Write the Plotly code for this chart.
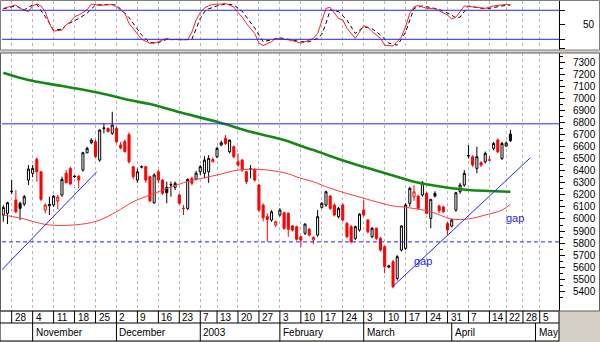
import pandas as pd
import plotly.graph_objects as go

# ---------------- trading calendar ----------------
FIRST_DAY = "2002-10-24"
LAST_DAY = "2003-05-09"
HOLIDAYS = ["2002-12-24", "2002-12-25", "2002-12-26", "2002-12-31", "2003-01-01",
            "2003-01-06", "2003-04-18", "2003-04-21", "2003-05-01"]
trading_days = [d.strftime("%Y-%m-%d") for d in pd.bdate_range(FIRST_DAY, LAST_DAY)
                if d.strftime("%Y-%m-%d") not in HOLIDAYS]
day_index = {d: i for i, d in enumerate(trading_days)}

week_starts = ["2002-10-28", "2002-11-04", "2002-11-11", "2002-11-18", "2002-11-25",
               "2002-12-02", "2002-12-09", "2002-12-16", "2002-12-23", "2003-01-07",
               "2003-01-13", "2003-01-20", "2003-01-27", "2003-02-03", "2003-02-10",
               "2003-02-17", "2003-02-24", "2003-03-03", "2003-03-10", "2003-03-17",
               "2003-03-24", "2003-03-31", "2003-04-07", "2003-04-14", "2003-04-22",
               "2003-04-28", "2003-05-05"]
month_starts = ["2002-11-04", "2002-12-02", "2003-01-07", "2003-02-03", "2003-03-03",
                "2003-04-01", "2003-05-02"]
month_names = ["November", "December", "2003", "February", "March", "April", "May"]

# ---------------- daily prices ----------------
opens = [6033, 6047, 6226, 6157, 6130, 6124, 6323, 6379, 6495, 6392,
         6074, 6110, 6116, 6150, 6199, 6379, 6420, 6356, 6356, 6406,
         6550, 6633, 6641, 6489, 6752, 6752, 6711, 6752, 6614, 6642,
         6700, 6434, 6323, 6430, 6434, 6351, 6135, 6392, 6323, 6262,
         6282, 6262, 6199, 6090, 6088, 6337, 6330, 6392, 6379, 6392,
         6475, 6517, 6614, 6670, 6558, 6600, 6475, 6489, 6392, 6412,
         6412, 6282, 6115, 6020, 5991, 5950, 6033, 6052, 6047, 5942,
         5936, 5853, 5881, 5914, 5825, 5867, 6096, 6116, 6190, 6116,
         6019, 6116, 5963, 5936, 5839, 5908, 6074, 5991, 5853, 5922,
         5839, 5770, 5600, 5645, 5507, 5742, 5756, 6130, 6185, 6190,
         6199, 6213, 6005, 6213, 6107, 6100, 5963, 5941, 6074, 6226,
         6282, 6523, 6517, 6420, 6467, 6475, 6490, 6586, 6655, 6503,
         6605, 6705]
highs = [6115, 6143, 6323, 6240, 6144, 6199, 6448, 6448, 6511, 6400,
         6130, 6185, 6199, 6199, 6351, 6406, 6434, 6362, 6362, 6558,
         6600, 6670, 6660, 6745, 6794, 6760, 6890, 6770, 6640, 6660,
         6720, 6440, 6420, 6445, 6440, 6360, 6380, 6406, 6330, 6310,
         6310, 6310, 6210, 6115, 6337, 6350, 6400, 6448, 6522, 6530,
         6510, 6600, 6650, 6697, 6660, 6610, 6545, 6500, 6400, 6448,
         6420, 6290, 6130, 6047, 6074, 5985, 6090, 6060, 6055, 5950,
         5945, 5860, 5963, 5925, 5855, 6074, 6140, 6235, 6199, 6130,
         6100, 6130, 5975, 5950, 5945, 6047, 6157, 6000, 5936, 5930,
         5850, 5780, 5620, 5660, 5700, 5950, 6130, 6268, 6281, 6200,
         6315, 6225, 6163, 6230, 6120, 6110, 5977, 6000, 6226, 6300,
         6406, 6614, 6530, 6600, 6480, 6560, 6520, 6640, 6670, 6640,
         6645, 6740]
lows = [5977, 5958, 6207, 6047, 5991, 6107, 6282, 6346, 6309, 6149,
        6047, 6033, 6102, 6080, 6185, 6296, 6285, 6340, 6254, 6393,
        6545, 6620, 6505, 6475, 6710, 6720, 6697, 6630, 6580, 6550,
        6460, 6330, 6300, 6420, 6300, 6140, 6125, 6296, 6200, 6130,
        6185, 6240, 6120, 6033, 6074, 6280, 6320, 6365, 6337, 6300,
        6470, 6505, 6605, 6614, 6545, 6503, 6434, 6390, 6290, 6337,
        6310, 6060, 5980, 5811, 5977, 5935, 6020, 5910, 5853, 5895,
        5820, 5770, 5867, 5855, 5790, 5853, 6085, 6102, 6074, 6020,
        6005, 5980, 5840, 5797, 5825, 5895, 6020, 5880, 5840, 5825,
        5730, 5549, 5590, 5424, 5490, 5730, 5742, 6102, 6150, 6080,
        6185, 6040, 5922, 6180, 6050, 6050, 5867, 5930, 6060, 6210,
        6268, 6503, 6430, 6379, 6430, 6460, 6480, 6570, 6545, 6490,
        6600, 6640]
closes = [6096, 6135, 6230, 6060, 6088, 6185, 6415, 6420, 6392, 6163,
          6116, 6120, 6190, 6182, 6329, 6301, 6290, 6352, 6323, 6550,
          6586, 6655, 6517, 6738, 6755, 6725, 6780, 6642, 6590, 6560,
          6475, 6351, 6392, 6434, 6323, 6150, 6365, 6323, 6213, 6218,
          6285, 6296, 6130, 6087, 6329, 6296, 6380, 6434, 6489, 6503,
          6495, 6586, 6633, 6627, 6655, 6517, 6448, 6406, 6309, 6415,
          6323, 6074, 6010, 5997, 6060, 5977, 6074, 5922, 5915, 5908,
          5831, 5825, 5958, 5867, 5847, 6019, 6130, 6226, 6088, 6033,
          6088, 5991, 5853, 5811, 5936, 6040, 6033, 5894, 5922, 5839,
          5742, 5604, 5610, 5438, 5687, 5941, 6116, 6254, 6226, 6088,
          6301, 6047, 6163, 6190, 6069, 6060, 5908, 5991, 6218, 6282,
          6379, 6526, 6448, 6517, 6448, 6545, 6489, 6627, 6558, 6627,
          6630, 6650]

# ---------------- moving averages (read at sampled days) ----------------
ma_long_idx = [0, 6, 14, 23, 30, 35, 43, 51, 59, 67, 71, 74, 82, 90, 98, 102, 107, 111, 121]
ma_long_val = [7214, 7153, 7104, 7046, 6987, 6954, 6877, 6807, 6724, 6655, 6606, 6572,
               6475, 6392, 6309, 6282, 6255, 6240, 6226]
ma_short_idx = [0, 4, 11, 19, 23, 27, 31, 35, 43, 51, 56, 61, 67, 71, 74, 78, 86, 93, 96,
                102, 107, 111, 115, 119, 121]
ma_short_val = [6033, 6008, 5950, 5958, 5991, 6060, 6143, 6199, 6301, 6365, 6406, 6412,
                6384, 6338, 6309, 6255, 6172, 6108, 6097, 6060, 6000, 6000, 6033, 6074, 6122]

# ---------------- stochastic oscillator ----------------
stoch_k_idx = [0, 2, 3, 4, 6, 7, 8, 9, 10, 11, 12, 13, 14, 15, 16, 17, 18, 20, 21, 23, 25, 26,
               27, 29, 30, 32, 33, 35, 36, 37, 39, 40, 41, 43, 44, 45, 46, 47, 48, 49, 50, 52,
               53, 55, 56, 57, 58, 60, 61, 62, 64, 65, 67, 68, 70, 71, 72, 74, 75, 76, 77, 78,
               79, 80, 81, 82, 84, 85, 86, 87, 88, 90, 91, 93, 95, 96, 97, 98, 99, 101, 103,
               104, 106, 107, 108, 109, 110, 112, 114, 115, 117, 119, 120, 121]
stoch_k_val = [84, 89, 91, 84, 77, 89, 93, 89, 77, 53, 37, 38, 39, 50, 56, 67, 70, 81, 93, 90,
               91, 92, 87, 74, 53, 32, 20, 12, 12, 15, 22, 19, 20, 19, 19, 35, 60, 75, 85, 89,
               92, 93, 94, 87, 75, 66, 53, 32, 12, 7, 15, 22, 20, 19, 15, 12, 15, 22, 32, 60,
               84, 86, 74, 63, 60, 43, 22, 36, 48, 45, 36, 22, 8, 6, 25, 46, 74, 87, 90, 84,
               83, 79, 70, 62, 66, 77, 89, 87, 84, 84, 89, 91, 92, 91]
stoch_d_idx = [0, 2, 3, 5, 7, 8, 10, 12, 14, 15, 18, 20, 22, 25, 27, 30, 33, 35, 37, 39, 42,
               45, 47, 48, 49, 51, 53, 55, 56, 57, 60, 62, 64, 66, 68, 71, 73, 75, 76, 77, 78,
               80, 82, 84, 86, 87, 88, 90, 92, 94, 95, 96, 97, 98, 100, 104, 107, 108, 109,
               110, 111, 114, 116, 119, 121]
stoch_d_val = [83, 87, 89, 81, 91, 92, 67, 39, 41, 50, 63, 74, 91, 92, 91, 65, 29, 13, 13, 20,
               19, 20, 63, 77, 83, 89, 93, 91, 84, 78, 43, 15, 19, 23, 20, 15, 15, 22, 30, 53,
               81, 77, 60, 32, 46, 44, 42, 29, 12, 8, 20, 35, 60, 84, 89, 82, 70, 64, 66, 77,
               89, 84, 84, 89, 91]
stoch_levels = [80, 20]

# ---------------- drawn studies ----------------
price_levels = [6790, 5810]          # resistance (solid), support (dashed)
trend1_idx = [-0.4, 22.3]
trend1_val = [5576, 6392]
trend2_idx = [92.9, 125.7]
trend2_val = [5438, 6506]
gap_idx = [97.5, 119.4]
gap_val = [5655, 6006]

# ---------------- styling helpers ----------------
W, H = 600, 342
def px(x):
    return x / W
def py(y):
    return 1 - y / H

FONT = "Liberation Sans, Arial, sans-serif"
RED = "#ff0000"
BLUE = "#2323ff"
GRID = "#b8b8b8"

n = len(closes)
xs = list(range(n))

# split candles by close vs previous close
up = {"x": [], "o": [], "h": [], "l": [], "c": []}
dn = {"x": [], "o": [], "h": [], "l": [], "c": []}
for i in xs:
    ref = closes[i - 1] if i > 0 else opens[i]
    tgt = up if closes[i] >= ref else dn
    tgt["x"].append(i); tgt["o"].append(opens[i]); tgt["h"].append(highs[i])
    tgt["l"].append(lows[i]); tgt["c"].append(closes[i])

fig = go.Figure()

# moving averages
fig.add_trace(go.Scatter(x=ma_long_idx, y=ma_long_val, mode="lines", line=dict(color="#138a13", width=2.6, shape="spline"),
                         hoverinfo="skip", xaxis="x", yaxis="y"))
fig.add_trace(go.Scatter(x=ma_short_idx, y=ma_short_val, mode="lines", line=dict(color="#ff3a3a", width=1, shape="spline"),
                         hoverinfo="skip", xaxis="x", yaxis="y"))
# trend lines
for tx, tv in ((trend1_idx, trend1_val), (trend2_idx, trend2_val)):
    fig.add_trace(go.Scatter(x=tx, y=tv, mode="lines", line=dict(color=BLUE, width=1),
                             hoverinfo="skip", xaxis="x", yaxis="y"))

# candles
fig.add_trace(go.Candlestick(x=up["x"], open=up["o"], high=up["h"], low=up["l"], close=up["c"],
                             increasing=dict(line=dict(color="black", width=1), fillcolor="white"),
                             decreasing=dict(line=dict(color="black", width=1), fillcolor="black"),
                             whiskerwidth=0, hoverinfo="skip", xaxis="x", yaxis="y"))
fig.add_trace(go.Candlestick(x=dn["x"], open=dn["o"], high=dn["h"], low=dn["l"], close=dn["c"],
                             increasing=dict(line=dict(color=RED, width=1), fillcolor="white"),
                             decreasing=dict(line=dict(color=RED, width=1), fillcolor=RED),
                             whiskerwidth=0, hoverinfo="skip", xaxis="x", yaxis="y"))

# stochastic
fig.add_trace(go.Scatter(x=stoch_d_idx, y=stoch_d_val, mode="lines",
                         line=dict(color="black", width=1, dash="4px,3px"),
                         hoverinfo="skip", xaxis="x2", yaxis="y2"))
fig.add_trace(go.Scatter(x=stoch_k_idx, y=stoch_k_val, mode="lines",
                         line=dict(color="#ff2020", width=1),
                         hoverinfo="skip", xaxis="x2", yaxis="y2"))

shapes = []
# panel backgrounds
shapes.append(dict(type="rect", xref="paper", yref="paper", x0=0, x1=1, y0=py(50), y1=1,
                   fillcolor="white", line=dict(width=0), layer="below"))
shapes.append(dict(type="rect", xref="paper", yref="paper", x0=0, x1=1, y0=py(311), y1=py(53),
                   fillcolor="white", line=dict(width=0), layer="below"))
shapes.append(dict(type="rect", xref="paper", yref="paper", x0=0, x1=px(559), y0=py(341), y1=py(311),
                   fillcolor="white", line=dict(color="black", width=1), layer="below"))
# panel borders
shapes.append(dict(type="rect", xref="paper", yref="paper", x0=px(0.5), x1=px(599.5), y0=py(50), y1=py(0.5),
                   line=dict(color="#808080", width=1), layer="above"))
shapes.append(dict(type="rect", xref="paper", yref="paper", x0=px(0.5), x1=px(599.5), y0=py(311), y1=py(53),
                   line=dict(color="#606060", width=1), layer="above"))
shapes.append(dict(type="line", xref="paper", yref="paper", x0=0, x1=px(559), y0=py(323), y1=py(323),
                   line=dict(color="black", width=1)))

# horizontal levels
shapes.append(dict(type="line", xref="x domain", yref="y", x0=0, x1=1, y0=price_levels[0], y1=price_levels[0],
                   line=dict(color=BLUE, width=1)))
shapes.append(dict(type="line", xref="x domain", yref="y", x0=0, x1=1, y0=price_levels[1], y1=price_levels[1],
                   line=dict(color=BLUE, width=1, dash="4px,3px")))
for lv in stoch_levels:
    shapes.append(dict(type="line", xref="x2 domain", yref="y2", x0=0, x1=1, y0=lv, y1=lv,
                       line=dict(color=BLUE, width=1)))

week_idx = [day_index[d] for d in week_starts]
month_idx = [day_index[d] for d in month_starts]

annotations = []
for d, wi in zip(week_starts, week_idx):
    shapes.append(dict(type="line", xref="x", yref="paper", x0=wi, x1=wi, y0=py(323), y1=py(311),
                       line=dict(color="black", width=1)))
    annotations.append(dict(x=wi, y=py(317.5), xref="x", yref="paper", text=str(int(d[-2:])),
                            showarrow=False, xanchor="left", yanchor="middle", xshift=1,
                            font=dict(family=FONT, size=10, color="black")))
for name, mi in zip(month_names, month_idx):
    shapes.append(dict(type="line", xref="x", yref="paper", x0=mi, x1=mi, y0=py(341), y1=py(323),
                       line=dict(color="black", width=1)))
    annotations.append(dict(x=mi, y=py(332.5), xref="x", yref="paper", text=name,
                            showarrow=False, xanchor="left", yanchor="middle", xshift=1,
                            font=dict(family=FONT, size=10, color="black")))
for gi, gv in zip(gap_idx, gap_val):
    annotations.append(dict(x=gi, y=gv, xref="x", yref="y", text="gap", showarrow=False,
                            xanchor="left", yanchor="middle",
                            font=dict(family=FONT, size=11, color=BLUE)))

xcommon = dict(domain=[px(2), px(559)], range=[-0.31, 132.6], tickvals=week_idx,
               showticklabels=False, ticks="", showgrid=True, gridcolor=GRID, gridwidth=1,
               griddash="3px,3px", zeroline=False, showline=False)

fig.update_layout(
    width=W, height=H, autosize=False,
    margin=dict(l=0, r=0, t=0, b=0, pad=0),
    paper_bgcolor="#d4d0c8", plot_bgcolor="white",
    showlegend=False, hovermode=False,
    font=dict(family=FONT, size=10, color="black"),
    xaxis=dict(**xcommon, anchor="y", rangeslider=dict(visible=False)),
    xaxis2=dict(**xcommon, anchor="y2", matches="x"),
    yaxis=dict(domain=[py(311), py(53)], range=[5236, 7378], side="right", anchor="x",
               tickvals=list(range(5400, 7301, 100)), ticks="outside", ticklen=5, tickcolor="black",
               showline=True, linecolor="black", linewidth=1, showgrid=False, zeroline=False,
               ticklabelstandoff=6, tickfont=dict(family=FONT, size=10, color="black"),
               minor=dict(tickvals=list(range(5350, 7351, 100)), ticks="outside", ticklen=3,
                          tickcolor="black", showgrid=False)),
    yaxis2=dict(domain=[py(50), py(1)], range=[-2.1, 99.2], side="right", anchor="x2",
                tickvals=[0, 20, 50, 80], ticktext=["", "", "50", ""], ticks="outside", ticklen=5,
                tickcolor="black", showline=True, linecolor="black", linewidth=1, showgrid=False,
                zeroline=False, ticklabelstandoff=16, tickfont=dict(family=FONT, size=10, color="black")),
    shapes=shapes, annotations=annotations,
)

fig.write_html("out.html")
